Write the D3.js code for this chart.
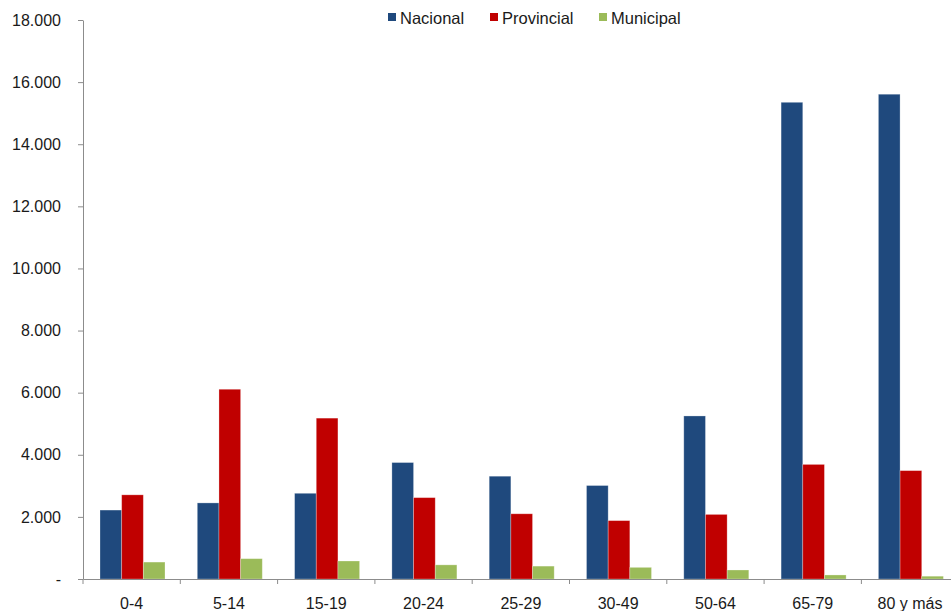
<!DOCTYPE html>
<html>
<head>
<meta charset="utf-8">
<script src="https://cdn.jsdelivr.net/npm/d3@7"></script>
<style>
  body { margin: 0; background: #fff; }
  svg { display: block; font-family: "Liberation Sans", Arial, sans-serif; }
</style>
</head>
<body>
<svg id="chart" width="951" height="611"></svg>
<script>
// data
const categories = ['0-4', '5-14', '15-19', '20-24', '25-29', '30-49', '50-64', '65-79', '80 y más'];
const series = ['Nacional', 'Provincial', 'Municipal'];
const nacional   = [2220, 2450, 2760, 3750, 3310, 3010, 5250, 15350, 15610];
const provincial = [2710, 6110, 5180, 2620, 2100, 1880, 2080, 3690, 3490];
const municipal  = [545, 655, 580, 455, 415, 375, 290, 130, 90];
const yTicks = [0, 2000, 4000, 6000, 8000, 10000, 12000, 14000, 16000, 18000];
const colors = ['#1F497D', '#C00000', '#9BBB59'];

const values = [nacional, provincial, municipal];
const rows = categories.map((c, i) => ({ cat: c, vals: values.map(s => s[i]) }));

const svg = d3.select('#chart');
const margin = { top: 20, left: 83, bottom: 579 };
const bandW = 97.3;

const x = d3.scaleBand()
    .domain(categories)
    .range([margin.left, margin.left + bandW * categories.length])
    .padding(0);

const xs = d3.scaleBand()
    .domain(series)
    .range([17, 82])
    .padding(0);

const y = d3.scaleLinear()
    .domain([0, 18000])
    .range([margin.bottom, margin.top]);

const fmt = v => v === 0 ? '-' : d3.format(',')(v).replace(/,/g, '.');

// y axis
const yAxis = svg.append('g')
    .attr('transform', `translate(${margin.left},0)`)
    .call(d3.axisLeft(y).tickValues(yTicks).tickFormat(fmt).tickSize(5).tickSizeOuter(0));
yAxis.select('.domain').attr('stroke', '#8c8c8c');
yAxis.selectAll('.tick line').attr('stroke', '#8c8c8c');
yAxis.selectAll('.tick text')
    .attr('x', -22)
    .attr('fill', '#1a1a1a')
    .style('font-size', '16px');

// bars
const groups = svg.append('g').selectAll('g')
    .data(rows)
    .enter()
    .append('g')
    .attr('transform', d => `translate(${x(d.cat)},0)`);

groups.selectAll('rect')
    .data(d => d.vals.map((v, i) => ({ key: series[i], v: v, i: i })))
    .enter()
    .append('rect')
    .attr('x', d => xs(d.key))
    .attr('width', xs.bandwidth())
    .attr('y', d => y(d.v))
    .attr('height', d => y(0) - y(d.v))
    .attr('fill', d => colors[d.i])
    .attr('stroke', 'rgba(255,255,255,0.35)')
    .attr('stroke-width', 0.8);

// x axis
const xAxis = svg.append('g')
    .attr('transform', `translate(0,${margin.bottom})`)
    .call(d3.axisBottom(x).tickSize(0).tickSizeOuter(0));
xAxis.select('.domain').attr('stroke', '#8c8c8c');
xAxis.selectAll('.tick text')
    .attr('y', 19)
    .attr('fill', '#1a1a1a')
    .style('font-size', '16px');

// category separator ticks
svg.append('g').selectAll('line')
    .data(categories.concat(['end']))
    .enter()
    .append('line')
    .attr('x1', (d, i) => margin.left + i * bandW)
    .attr('x2', (d, i) => margin.left + i * bandW)
    .attr('y1', margin.bottom)
    .attr('y2', margin.bottom + 5)
    .attr('stroke', '#8c8c8c');

// legend
const legendX = [388, 490, 599];
const legend = svg.append('g').selectAll('g')
    .data(series)
    .enter()
    .append('g')
    .attr('transform', (d, i) => `translate(${legendX[i]},13)`);
legend.append('rect')
    .attr('width', 8)
    .attr('height', 8)
    .attr('fill', (d, i) => colors[i]);
legend.append('text')
    .attr('x', 12)
    .attr('y', 11)
    .attr('fill', '#1a1a1a')
    .style('font-size', '16.5px')
    .text(d => d);
</script>
</body>
</html>
